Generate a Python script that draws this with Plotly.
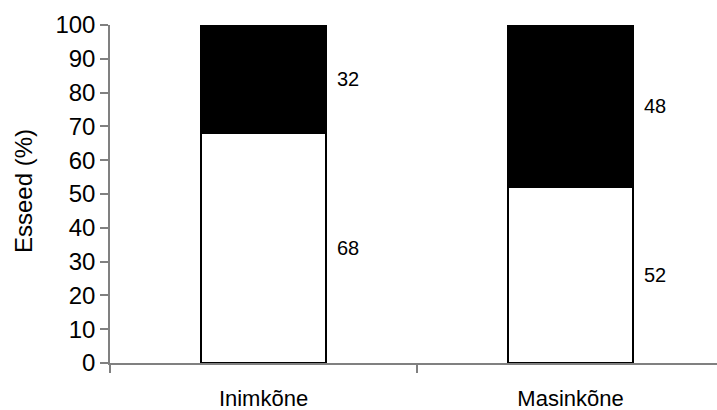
import plotly.graph_objects as go

categories = ["Inimkõne", "Masinkõne"]
lower_values = [68, 52]
upper_values = [32, 48]
y_ticks = [0, 10, 20, 30, 40, 50, 60, 70, 80, 90, 100]
y_title = "Esseed (%)"

BAR_W = 0.41
FONT = "Liberation Sans, Arial, sans-serif"

fig = go.Figure()
fig.add_trace(go.Bar(
    x=categories, y=lower_values, width=BAR_W,
    marker=dict(color="white", line=dict(color="black", width=2)),
    showlegend=False, hoverinfo="skip",
))
fig.add_trace(go.Bar(
    x=categories, y=upper_values, width=BAR_W,
    marker=dict(color="black", line=dict(color="black", width=2)),
    showlegend=False, hoverinfo="skip",
))

annotations = []
for i, (lo, up) in enumerate(zip(lower_values, upper_values)):
    for base, val in ((0, lo), (lo, up)):
        annotations.append(dict(
            x=i + BAR_W / 2, y=base + val / 2, xref="x", yref="y",
            text=str(val), showarrow=False, xanchor="left", yanchor="middle",
            xshift=9, font=dict(family=FONT, size=20, color="black"),
        ))

# y-axis title as rotated annotation for exact placement
annotations.append(dict(
    x=0, y=0.5, xref="paper", yref="paper", text=y_title, textangle=-90,
    showarrow=False, xanchor="center", yanchor="middle", xshift=-87, yshift=3,
    font=dict(family=FONT, size=24, color="black"),
))

fig.update_layout(
    barmode="stack",
    width=717, height=410,
    margin=dict(l=110, r=0, t=25, b=47),
    paper_bgcolor="white", plot_bgcolor="white",
    annotations=annotations,
    bargap=0,
    xaxis=dict(
        type="category", range=[-0.5, 1.477], automargin=False,
        showline=True, linecolor="#808080", linewidth=1.5,
        ticks="outside", tickson="boundaries", ticklen=8, tickcolor="#808080", tickwidth=1.5,
        showgrid=False, zeroline=False, ticklabelstandoff=15,
        tickfont=dict(family=FONT, size=22, color="black"),
    ),
    yaxis=dict(
        range=[0, 100], tickvals=y_ticks, ticktext=[str(t) for t in y_ticks],
        automargin=False,
        showline=True, linecolor="#808080", linewidth=1.5,
        ticks="outside", ticklen=8, tickcolor="#808080", tickwidth=1.5,
        showgrid=False, zeroline=False,
        tickfont=dict(family=FONT, size=24, color="black"),
    ),
)

fig.write_html(
    "out.html",
    config={"displayModeBar": False},
    post_script="document.body.style.margin='0';document.body.style.overflow='hidden';",
)
